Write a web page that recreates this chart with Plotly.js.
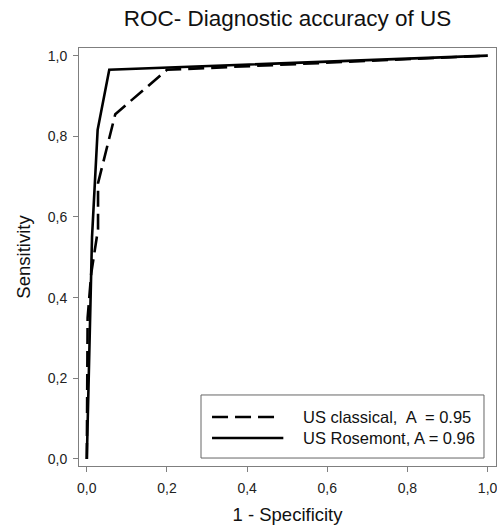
<!DOCTYPE html>
<html>
<head>
<meta charset="utf-8">
<script src="https://cdn.plot.ly/plotly-3.0.1.min.js"></script>
<style>html,body{margin:0;padding:0;background:#fff;}#chart{width:497px;height:527px;}</style>
</head>
<body>
<div id="chart"></div>
<script>
// Data
const seriesNames = ["US classical,  A  = 0.95", "US Rosemont, A = 0.96"];
const classicalFPR = [0, 0.002, 0.011, 0.028, 0.028, 0.071, 0.2, 1];
const classicalTPR = [0, 0.35, 0.46, 0.57, 0.684, 0.855, 0.965, 1];
const rosemontFPR = [0, 0.013, 0.027, 0.056, 1];
const rosemontTPR = [0, 0.55, 0.816, 0.965, 1];
const tickVals = [0, 0.2, 0.4, 0.6, 0.8, 1.0];
const tickText = ["0,0", "0,2", "0,4", "0,6", "0,8", "1,0"];

const FONT = "Liberation Sans, Arial, sans-serif";
const frameColor = "#7f7f7f";

const traces = [
  {x: classicalFPR, y: classicalTPR, mode: "lines", name: seriesNames[0],
   line: {color: "#000", width: 2.6, dash: "16px,7px"}, showlegend: false},
  {x: rosemontFPR, y: rosemontTPR, mode: "lines", name: seriesNames[1],
   line: {color: "#000", width: 2.6}, showlegend: false}
];

const axisCommon = {
  showgrid: false, zeroline: false, showline: true, mirror: true,
  linecolor: frameColor, linewidth: 1, ticks: "outside", ticklen: 5,
  tickcolor: frameColor, tickwidth: 1, automargin: false,
  ticklabeloverflow: "allow",
  tickvals: tickVals, ticktext: tickText,
  tickfont: {family: FONT, size: 14, color: "#222"}
};

// manual legend (box + line samples + labels)
const legY = [0.1172, 0.067];
const shapes = [
  {type: "rect", xref: "paper", yref: "paper", x0: 0.2926, x1: 0.9712, y0: 0.0191, y1: 0.1699,
   line: {color: "#666", width: 1}, fillcolor: "#fff", layer: "above"},
  {type: "line", xref: "paper", yref: "paper", x0: 0.319, x1: 0.478, y0: legY[0], y1: legY[0],
   line: {color: "#000", width: 2.6, dash: "16px,7px"}},
  {type: "line", xref: "paper", yref: "paper", x0: 0.319, x1: 0.49, y0: legY[1], y1: legY[1],
   line: {color: "#000", width: 2.6}}
];
const annotations = seriesNames.map((n, i) => ({
  text: n, xref: "paper", yref: "paper", x: 0.532, y: legY[i], xanchor: "left", yanchor: "middle",
  showarrow: false, font: {family: FONT, size: 16.5, color: "#111"}
}));

const layout = {
  width: 497, height: 527,
  margin: {l: 79, r: 1, t: 48, b: 61},
  paper_bgcolor: "#fff", plot_bgcolor: "#fff",
  title: {text: "ROC- Diagnostic accuracy of US", x: 0.5, xref: "paper", y: 0.966, yref: "container",
          yanchor: "middle", font: {family: FONT, size: 22.5, color: "#111"}},
  xaxis: Object.assign({}, axisCommon, {range: [-0.0195, 1.021], ticklabelstandoff: 4,
    title: {text: "1 - Specificity", standoff: 13, font: {family: FONT, size: 18.5, color: "#111"}}}),
  yaxis: Object.assign({}, axisCommon, {range: [-0.0174, 1.019], ticklabelstandoff: 3,
    title: {text: "Sensitivity", standoff: 12, font: {family: FONT, size: 18.5, color: "#111"}}}),
  shapes: shapes,
  annotations: annotations,
  showlegend: false
};

Plotly.newPlot("chart", traces, layout, {staticPlot: true, displayModeBar: false});
</script>
</body>
</html>
